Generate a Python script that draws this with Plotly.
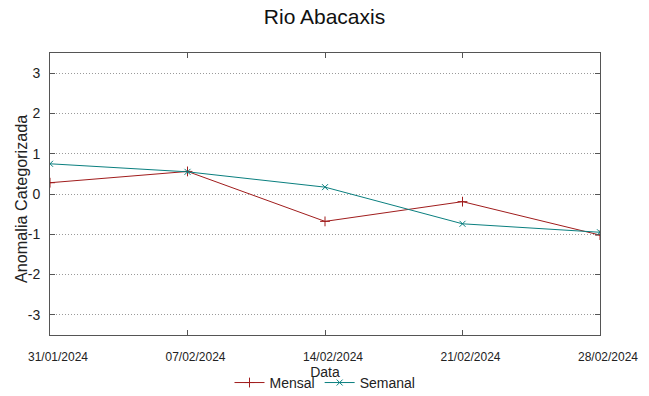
import plotly.graph_objects as go

dates = ["2024-01-31", "2024-02-07", "2024-02-14", "2024-02-21", "2024-02-28"]
tick_labels = ["31/01/2024", "07/02/2024", "14/02/2024", "21/02/2024", "28/02/2024"]
mensal = [0.28, 0.56, -0.68, -0.19, -1.02]
semanal = [0.75, 0.55, 0.17, -0.74, -0.95]
y_ticks = [-3, -2, -1, 0, 1, 2, 3]
y_tick_labels = ["-3", "-2", "-1", "0", "1", "2", "3"]

red = "#a01c1c"
teal = "#0a7f7f"
font_main = "Liberation Sans, Arial, sans-serif"

fig = go.Figure()
fig.add_trace(go.Scatter(x=dates, y=mensal, name="Mensal", mode="lines+markers",
                         line=dict(color=red, width=1),
                         marker=dict(symbol="cross-thin", size=7, line=dict(color=red, width=1))))
fig.add_trace(go.Scatter(x=dates, y=semanal, name="Semanal", mode="lines+markers",
                         line=dict(color=teal, width=1),
                         marker=dict(symbol="x-thin", size=6, line=dict(color=teal, width=1))))

fig.update_layout(
    width=649, height=396,
    margin=dict(l=50, r=49, t=53, b=61, autoexpand=False),
    paper_bgcolor="white", plot_bgcolor="white",
    font=dict(family=font_main, color="#222"),
    title=dict(text="Rio Abacaxis", x=0.5, xanchor="center", y=0.957, yanchor="middle",
               font=dict(size=21, color="#111")),
    showlegend=True,
    legend=dict(orientation="h", x=0.5, xanchor="center", y=-0.17, yanchor="middle",
                font=dict(size=14),
                bgcolor="rgba(0,0,0,0)", itemwidth=30, tracegroupgap=0),
    xaxis=dict(type="date", range=[dates[0], dates[-1]], tickvals=dates, ticktext=tick_labels,
               automargin=False,
               showgrid=False, zeroline=False, showline=True, linecolor="#555", linewidth=1,
               mirror="ticks", ticks="inside", ticklen=5, tickcolor="#555",
               ticklabelstandoff=11, ticklabelshift=8,
               tickfont=dict(size=12),
               title=dict(text="Data", standoff=0, font=dict(size=14))),
    yaxis=dict(range=[-3.5, 3.5], tickvals=y_ticks, ticktext=y_tick_labels,
               showgrid=True, gridcolor="#9a9a9a", griddash="1px,2px",
               automargin=False,
               gridwidth=1, zeroline=False, showline=True, linecolor="#555", linewidth=1,
               mirror="ticks", ticks="inside", ticklen=5, tickcolor="#555",
               ticklabelstandoff=6,
               tickfont=dict(size=14)),
    annotations=[dict(text="Anomalia Categorizada", textangle=-90, showarrow=False,
                      xref="paper", yref="paper", x=0, y=0.5, xanchor="center", yanchor="middle",
                      xshift=-29, yshift=-5, font=dict(size=16.2, color="#222"))],
)

fig.write_html("out.html", config={"displayModeBar": False},
               post_script="document.body.style.margin='0';")
